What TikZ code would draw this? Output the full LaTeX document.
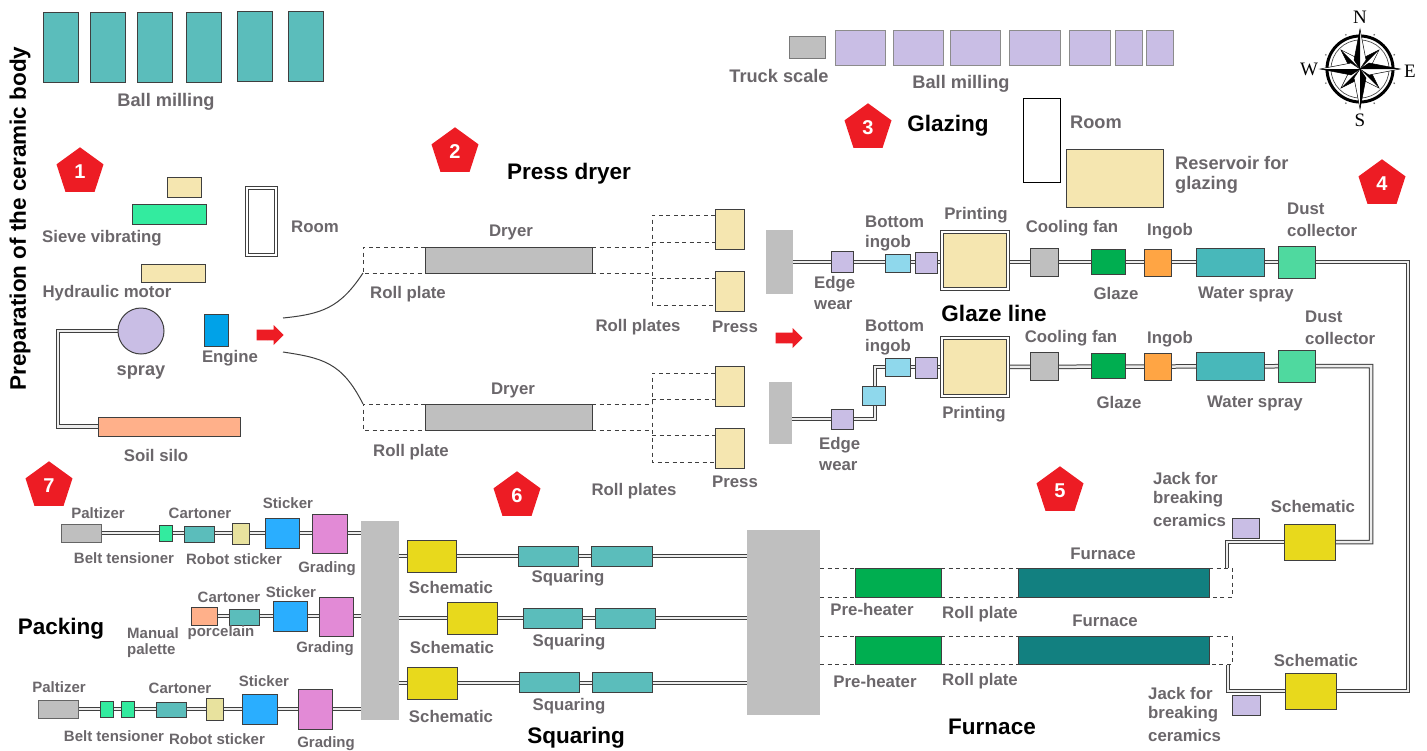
\documentclass[tikz,border=0pt]{standalone}
\usepackage{fontspec}
\setmainfont{Liberation Sans}
\newfontfamily\cserif{Liberation Serif}
\usetikzlibrary{shapes.geometric,shapes.arrows,backgrounds}
\definecolor{cTeal}{HTML}{5BBDBB}
\definecolor{cPurple}{HTML}{C9BEE5}
\definecolor{cCream}{HTML}{F5E6B0}
\definecolor{cGray}{HTML}{BFBFBF}
\definecolor{cMint}{HTML}{33EB9F}
\definecolor{cWater}{HTML}{48B8BA}
\definecolor{cDust}{HTML}{4FD99F}
\definecolor{cOrange}{HTML}{FFA544}
\definecolor{cGreen}{HTML}{00AE50}
\definecolor{cYellow}{HTML}{E8D91C}
\definecolor{cDeep}{HTML}{128080}
\definecolor{cPink}{HTML}{E28AD6}
\definecolor{cBlue}{HTML}{2AAEFF}
\definecolor{cPeach}{HTML}{FFB08A}
\definecolor{cKhaki}{HTML}{E8E29E}
\definecolor{cCyan}{HTML}{8FD8EC}
\definecolor{cEngine}{HTML}{00A2E8}
\definecolor{cRed}{HTML}{ED1C24}
\definecolor{cLabel}{HTML}{6B676B}
\definecolor{cLine}{HTML}{3F3F3F}
\tikzset{
  box/.style={draw=cLine,line width=1pt,inner sep=0pt,outer sep=0pt,rectangle},
  block/.style={fill=cGray,draw=none,inner sep=0pt,outer sep=0pt,rectangle},
  dblbox/.style={draw=cLine,line width=.9pt,double=white,double distance=1.6pt,inner sep=0pt,outer sep=0pt,rectangle},
  pipe/.style={draw=cLine,line width=1pt,double=white!93!black,double distance=2.5pt},
  dsh/.style={draw=cLine,line width=1pt,dash pattern=on 4pt off 3.5pt},
  curveline/.style={draw=cLine,line width=1pt},
  lab/.style={text=cLabel,font=\fontsize{16.8}{19}\selectfont\bfseries,inner sep=0pt,yshift=-1pt},
  labb/.style={text=cLabel,font=\fontsize{18.2}{21}\selectfont\bfseries,inner sep=0pt,yshift=-1pt},
  labs/.style={text=cLabel,font=\fontsize{15}{18}\selectfont\bfseries,inner sep=0pt,yshift=-1pt},
  ttl/.style={text=black,font=\fontsize{22.5}{26}\selectfont\bfseries,inner sep=0pt,yshift=-1.5pt},
  pent/.style={regular polygon,regular polygon sides=5,fill=cRed,draw=none,minimum size=49.4pt,inner sep=0pt,text=white,font=\fontsize{20}{22}\selectfont\bfseries},
  redarrow/.style={single arrow,fill=cRed,draw=none,text=cRed,anchor=tip,minimum width=20pt,minimum height=27pt,single arrow head extend=4.5pt,single arrow head indent=0pt,inner sep=0pt},
  cmp/.style={text=black,font=\fontsize{19}{21}\selectfont\cserif,inner sep=0pt},
}
\newcount\lbn
% name x1 y1 x2 y2 style
\newcommand\bx[6]{\node[#6,minimum width={(#4-#2)*1pt},minimum height={(#5-#3)*1pt}] (#1) at ({(#2+#4)/2},{(#3+#5)/2}) {};}
% x y text: gray label
\newcommand\lbc[3]{\global\advance\lbn by 1\relax\node[lab] (lb\the\lbn) at (#1,#2) {#3};}
\newcommand\lbg[3]{\global\advance\lbn by 1\relax\node[labb] (lb\the\lbn) at (#1,#2) {#3};}
\newcommand\lsc[3]{\global\advance\lbn by 1\relax\node[labs] (lb\the\lbn) at (#1,#2) {#3};}
% left aligned label
\newcommand\lbw[3]{\global\advance\lbn by 1\relax\node[lab,anchor=west] (lb\the\lbn) at (#1,#2) {#3};}
\newcommand\lbgw[3]{\global\advance\lbn by 1\relax\node[labb,anchor=west] (lb\the\lbn) at (#1,#2) {#3};}
\newcommand\shaft{\rule{1pt}{10.5pt}}
\begin{document}
\begin{tikzpicture}[x=1pt,y=-1pt]
\useasboundingbox (0,0) rectangle (1427,750);
% ---------- body preparation
\node[ttl,rotate=90] (tPrep) at (20,217) {Preparation of the ceramic body};
\bx{bm1}{43}{12}{78}{82}{box,fill=cTeal}
\bx{bm2}{90}{12}{125}{82}{box,fill=cTeal}
\bx{bm3}{137}{12}{172}{82}{box,fill=cTeal}
\bx{bm4}{186}{12}{221}{82}{box,fill=cTeal}
\bx{bm5}{237}{11}{272}{81}{box,fill=cTeal}
\bx{bm6}{288}{11}{323}{81}{box,fill=cTeal}
\lbg{166}{101}{Ball milling}
\node[pent] (p1) at (80,172) {1};
\bx{sv1}{167}{177}{201}{197}{box,fill=cCream}
\bx{sv2}{132}{204}{206}{224}{box,fill=cMint}
\lbc{102}{237}{Sieve vibrating}
\bx{room1}{247}{188}{276}{255}{dblbox,fill=white}
\lbc{315}{226}{Room}
\bx{hyd}{141}{264}{205}{282}{box,fill=cCream}
\lbc{107}{292}{Hydraulic motor}
\node[circle,draw=cLine,line width=1pt,fill=cPurple,minimum size=46pt,inner sep=0pt,outer sep=0pt] (spray) at (141,331) {};
\lbg{141}{371}{spray}
\bx{eng}{204}{314}{228}{346}{box,fill=cEngine}
\lbc{230}{357}{Engine}
\bx{silo}{98}{417}{240}{436}{box,fill=cPeach}
\lbc{156}{454}{Soil silo}
\node[redarrow] (ar1) at (284,335) {\shaft};
% ---------- press dryer
\node[pent] (p2) at (455,152) {2};
\node[ttl] (tPress) at (569,172) {Press dryer};
\bx{dry1}{425}{247}{592}{273}{box,fill=cGray}
\bx{dry2}{425}{404}{592}{430}{box,fill=cGray}
\lbc{511}{231}{Dryer}
\lbc{513}{389}{Dryer}
\lbc{408}{293}{Roll plate}
\lbc{411}{451}{Roll plate}
\lbc{638}{326}{Roll plates}
\lbc{634}{490}{Roll plates}
\lbc{735}{326}{Press}
\lbc{735}{481}{Press}
\bx{pr1}{715}{209}{744}{249}{box,fill=cCream}
\bx{pr2}{715}{271}{744}{311}{box,fill=cCream}
\bx{pr3}{715}{366}{744}{406}{box,fill=cCream}
\bx{pr4}{715}{428}{744}{468}{box,fill=cCream}
\coordinate (rl1) at (363,247); \coordinate (rl2) at (363,273);
\coordinate (rl3) at (363,404); \coordinate (rl4) at (363,430);
\draw[dsh] (dry1.north west) -- (rl1) -- (rl2) -- (dry1.south west);
\draw[dsh] (dry2.north west) -- (rl3) -- (rl4) -- (dry2.south west);
\coordinate (a1) at (652,215); \coordinate (a2) at (652,242); \coordinate (a3) at (652,278); \coordinate (a4) at (652,305);
\coordinate (b1) at (652,373); \coordinate (b2) at (652,399); \coordinate (b3) at (652,435); \coordinate (b4) at (652,462);
\draw[dsh] (pr1.west |- a1) -- (a1) -- (a4) -- (pr2.west |- a4);
\draw[dsh] (a2) -- (pr1.west |- a2);
\draw[dsh] (a3) -- (pr2.west |- a3);
\draw[dsh] (dry1.north east) -- (dry1.north east -| a1);
\draw[dsh] (dry1.south east) -- (dry1.south east -| a1);
\draw[dsh] (pr3.west |- b1) -- (b1) -- (b4) -- (pr4.west |- b4);
\draw[dsh] (b2) -- (pr3.west |- b2);
\draw[dsh] (b3) -- (pr4.west |- b3);
\draw[dsh] (dry2.north east) -- (dry2.north east -| b1);
\draw[dsh] (dry2.south east) -- (dry2.south east -| b1);
\coordinate (c1) at (283,318); \coordinate (c2) at (283,352);
\draw[curveline] (c1) .. controls (322,314) and (340,308) .. (rl2);
\draw[curveline] (c2) .. controls (322,358) and (342,362) .. (rl3);
\node[redarrow] (ar2) at (803,338) {\shaft};
% ---------- glazing top
\bx{truck}{789}{36}{825}{58}{box,draw=cLine!70,fill=cGray}
\lbg{779}{75}{Truck scale}
\bx{gm1}{835}{30}{885}{65}{box,draw=cLine!60,fill=cPurple}
\bx{gm2}{893}{30}{943}{65}{box,draw=cLine!60,fill=cPurple}
\bx{gm3}{950}{30}{1000}{65}{box,draw=cLine!60,fill=cPurple}
\bx{gm4}{1009}{30}{1060}{65}{box,draw=cLine!60,fill=cPurple}
\bx{gm5}{1069}{30}{1110}{65}{box,draw=cLine!60,fill=cPurple}
\bx{gm6}{1115}{30}{1142}{65}{box,draw=cLine!60,fill=cPurple}
\bx{gm7}{1146}{30}{1173}{65}{box,draw=cLine!60,fill=cPurple}
\lbg{961}{83}{Ball milling}
\node[pent] (p3) at (868,128) {3};
\node[ttl] (tGlaz) at (948,124) {Glazing};
\bx{room2}{1023}{98}{1060}{182}{box,draw=black,fill=white}
\lbg{1096}{121}{Room}
\bx{res}{1066}{149}{1163}{207}{box,fill=cCream}
\lbgw{1175}{162}{Reservoir for}
\lbgw{1175}{184}{glazing}
\node[pent] (p4) at (1382,184) {4};
% ---------- glaze line 1
\bx{gb1}{766}{230}{793}{294}{block}
\bx{e1}{831}{251}{853}{272}{box,fill=cPurple}
\bx{cy1}{885}{254}{910}{272}{box,fill=cCyan}
\bx{pu1}{915}{252}{937}{273}{box,fill=cPurple}
\bx{pt1}{942}{232}{1008}{289}{dblbox,fill=cCream}
\bx{cf1}{1030}{248}{1058}{276}{box,fill=cGray}
\bx{gl1}{1091}{249}{1125}{274}{box,fill=cGreen}
\bx{in1}{1144}{249}{1171}{276}{box,fill=cOrange}
\bx{ws1}{1196}{248}{1264}{276}{box,fill=cWater}
\bx{du1}{1278}{246}{1315}{278}{box,fill=cDust}
\lbw{865}{221}{Bottom}
\lbw{865}{242}{ingob}
\lbc{976}{214}{Printing}
\lbw{814}{283}{Edge}
\lbw{814}{304}{wear}
\lbc{1072}{227}{Cooling fan}
\lbc{1170}{230}{Ingob}
\lbc{1116}{292}{Glaze}
\lbc{1246}{293}{Water spray}
\lbw{1287}{208}{Dust}
\lbw{1287}{229}{collector}
\node[ttl] (tLine) at (994,312) {Glaze line};
% ---------- glaze line 2
\bx{gb2}{769}{382}{792}{444}{block}
\bx{e2}{831}{409}{853}{429}{box,fill=cPurple}
\bx{cy3}{862}{386}{885}{405}{box,fill=cCyan}
\bx{cy2}{885}{358}{910}{376}{box,fill=cCyan}
\bx{pu2}{915}{357}{937}{378}{box,fill=cPurple}
\bx{pt2}{942}{338}{1008}{396}{dblbox,fill=cCream}
\bx{cf2}{1030}{352}{1058}{380}{box,fill=cGray}
\bx{gl2}{1091}{353}{1125}{378}{box,fill=cGreen}
\bx{in2}{1144}{353}{1171}{380}{box,fill=cOrange}
\bx{ws2}{1196}{352}{1264}{380}{box,fill=cWater}
\bx{du2}{1278}{350}{1315}{382}{box,fill=cDust}
\lbw{865}{325}{Bottom}
\lbw{865}{346}{ingob}
\lbc{974}{413}{Printing}
\lbw{819}{444}{Edge}
\lbw{819}{465}{wear}
\lbc{1071}{337}{Cooling fan}
\lbc{1170}{338}{Ingob}
\lbc{1119}{401}{Glaze}
\lbc{1255}{402}{Water spray}
\lbw{1305}{316}{Dust}
\lbw{1305}{337}{collector}
% ---------- furnace
\node[pent] (p5) at (1060,491) {5};
\node[pent] (p6) at (517,496) {6};
\node[pent] (p7) at (49,486) {7};
\bx{fb}{747}{530}{820}{715}{block}
\bx{ph1}{855}{568}{941}{597}{box,fill=cGreen}
\bx{ph2}{855}{636}{941}{664}{box,fill=cGreen}
\bx{fu1}{1018}{568}{1209}{597}{box,fill=cDeep}
\bx{fu2}{1018}{636}{1209}{664}{box,fill=cDeep}
\bx{sc1}{1284}{524}{1335}{560}{box,fill=cYellow}
\bx{sc2}{1285}{673}{1336}{709}{box,fill=cYellow}
\bx{jk1}{1232}{518}{1259}{538}{box,fill=cPurple}
\bx{jk2}{1232}{695}{1260}{715}{box,fill=cPurple}
\lbc{1103}{553}{Furnace}
\lbc{1105}{620}{Furnace}
\lbc{872}{608}{Pre-heater}
\lbc{875}{680}{Pre-heater}
\lbc{980}{613}{Roll plate}
\lbc{980}{680}{Roll plate}
\lbc{1313}{505}{Schematic}
\lbc{1316}{659}{Schematic}
\lbw{1153}{477}{Jack for}
\lbw{1153}{498}{breaking}
\lbw{1153}{519}{ceramics}
\lbw{1148}{692}{Jack for}
\lbw{1148}{713}{breaking}
\lbw{1148}{734}{ceramics}
\node[ttl] (tFurn) at (992,725) {Furnace};
\draw[dsh] (fb.east |- ph1.north) -- (ph1.north west);
\draw[dsh] (fb.east |- ph1.south) -- (ph1.south west);
\draw[dsh] (ph1.north east) -- (fu1.north west);
\draw[dsh] (ph1.south east) -- (fu1.south west);
\draw[dsh] (fb.east |- ph2.north) -- (ph2.north west);
\draw[dsh] (fb.east |- ph2.south) -- (ph2.south west);
\draw[dsh] (ph2.north east) -- (fu2.north west);
\draw[dsh] (ph2.south east) -- (fu2.south west);
\coordinate (d1) at (1232,568); \coordinate (d2) at (1232,597);
\coordinate (d3) at (1232,636); \coordinate (d4) at (1232,664);
\draw[dsh] (fu1.north east) -- (d1) -- (d2) -- (fu1.south east);
\draw[dsh] (fu2.north east) -- (d3) -- (d4) -- (fu2.south east);
% ---------- squaring
\bx{sb}{361}{521}{399}{720}{block}
\bx{y1}{407}{540}{456}{572}{box,fill=cYellow}
\bx{y2}{447}{602}{497}{634}{box,fill=cYellow}
\bx{y3}{407}{667}{457}{699}{box,fill=cYellow}
\bx{q1}{518}{546}{578}{566}{box,fill=cTeal}
\bx{q2}{591}{546}{652}{566}{box,fill=cTeal}
\bx{q3}{523}{608}{582}{628}{box,fill=cTeal}
\bx{q4}{595}{608}{655}{628}{box,fill=cTeal}
\bx{q5}{519}{672}{579}{692}{box,fill=cTeal}
\bx{q6}{592}{672}{652}{692}{box,fill=cTeal}
\lbc{451}{586}{Schematic}
\lbc{452}{646}{Schematic}
\lbc{451}{715}{Schematic}
\lbc{568}{577}{Squaring}
\lbc{569}{641}{Squaring}
\lbc{569}{705}{Squaring}
\node[ttl] (tSq) at (576,736) {Squaring};
% ---------- packing
\node[ttl] (tPack) at (61,627) {Packing};
\bx{a1a}{61}{524}{101}{542}{box,draw=cLine!80,fill=cGray}
\bx{a1b}{159}{525}{172}{541}{box,fill=cMint}
\bx{a1c}{184}{526}{214}{542}{box,fill=cTeal}
\bx{a1d}{232}{523}{249}{544}{box,fill=cKhaki}
\bx{a1e}{265}{518}{299}{548}{box,fill=cBlue}
\bx{a1f}{312}{514}{347}{553}{box,fill=cPink}
\lsc{98}{512}{Paltizer}
\lsc{200}{512}{Cartoner}
\lsc{288}{502}{Sticker}
\lsc{124}{557}{Belt tensioner}
\lsc{234}{558}{Robot sticker}
\lsc{327}{568}{Grading}
\bx{a2a}{191}{607}{217}{625}{box,fill=cPeach}
\bx{a2b}{229}{609}{259}{625}{box,fill=cTeal}
\bx{a2c}{273}{601}{307}{631}{box,fill=cBlue}
\bx{a2d}{319}{597}{353}{636}{box,fill=cPink}
\lsc{229}{596}{Cartoner}
\lsc{291}{591}{Sticker}
\global\advance\lbn by 1\relax\node[labs,anchor=west] (lb\the\lbn) at (127,632) {Manual};
\global\advance\lbn by 1\relax\node[labs,anchor=west] (lb\the\lbn) at (127,650) {palette};
\lsc{221}{632}{porcelain}
\lsc{325}{648}{Grading}
\bx{a3a}{38}{700}{78}{718}{box,draw=cLine!80,fill=cGray}
\bx{a3b}{100}{701}{113}{717}{box,fill=cMint}
\bx{a3c}{121}{701}{134}{717}{box,fill=cMint}
\bx{a3d}{156}{702}{186}{717}{box,fill=cTeal}
\bx{a3e}{206}{698}{223}{720}{box,fill=cKhaki}
\bx{a3f}{242}{694}{277}{724}{box,fill=cBlue}
\bx{a3g}{298}{689}{332}{729}{box,fill=cPink}
\lsc{59}{686}{Paltizer}
\lsc{180}{687}{Cartoner}
\lsc{264}{680}{Sticker}
\lsc{114}{735}{Belt tensioner}
\lsc{217}{738}{Robot sticker}
\lsc{326}{743}{Grading}
% ---------- compass
\begin{scope}[shift={(1360,69)}]
  \draw[black,line width=3pt] (0,0) circle (33);
  \draw[black!70,line width=.7pt] (0,0) circle (29);
  \foreach \t in {22.5,67.5,112.5,157.5,202.5,247.5,292.5,337.5}
    \fill[black!60] (\t:37) circle (.9);
  \foreach \t in {45,135,225,315}{
    \fill[white,rotate=\t] (0,0) -- (27,0) -- (9,6) -- cycle;
    \fill[black,rotate=\t] (0,0) -- (27,0) -- (9,-6) -- cycle;
    \draw[black,line width=.5pt,rotate=\t] (9,6) -- (27,0) -- (9,-6);
  }
  \foreach \t in {0,90,180,270}{
    \fill[white,rotate=\t] (0,0) -- (40,0) -- (9,6) -- cycle;
    \fill[black,rotate=\t] (0,0) -- (40,0) -- (9,-6) -- cycle;
    \draw[black,line width=.5pt,rotate=\t] (0,0) -- (9,6) -- (40,0) -- (9,-6) -- cycle;
  }
\end{scope}
\node[cmp] (cN) at (1360,17) {N};
\node[cmp] (cS) at (1360,120) {S};
\node[cmp] (cW) at (1309,69) {W};
\node[cmp] (cE) at (1410,71) {E};
% ---------- pipes
\begin{pgfonlayer}{background}
  \fill[white] (0,0) rectangle (1427,750);
  \coordinate (rx1) at (1408,262);
  \coordinate (rx2) at (1371,366);
  \coordinate (bn) at (875,419);
  \coordinate (sx1) at (1227,568);
  \coordinate (sx2) at (1228,665);
  \coordinate (lx) at (58,331);
  \draw[pipe] (spray.center) -- (lx) |- (silo.center);
  \draw[pipe] (gb1.center) -- (rx1) |- (sc2.center);
  \draw[pipe] (pt2.center) -- (rx2) |- (sc1.center);
  \draw[pipe] (gb2.center |- e2.center) -- (bn) -- (bn |- pt2.center) -- (pt2.center);
  \draw[pipe] (sc1.center) -| (sx1);
  \draw[pipe] (sc2.center) -| (sx2);
  \draw[pipe] (sb.center |- y1.center) -- (fb.center |- y1.center);
  \draw[pipe] (sb.center |- y2.center) -- (fb.center |- y2.center);
  \draw[pipe] (sb.center |- y3.center) -- (fb.center |- y3.center);
  \draw[pipe] (a1a.center) -- (sb.center |- a1a.center);
  \draw[pipe] (a2a.center) -- (sb.center |- a2a.center);
  \draw[pipe] (a3a.center) -- (sb.center |- a3a.center);
\end{pgfonlayer}
\end{tikzpicture}
\end{document}
